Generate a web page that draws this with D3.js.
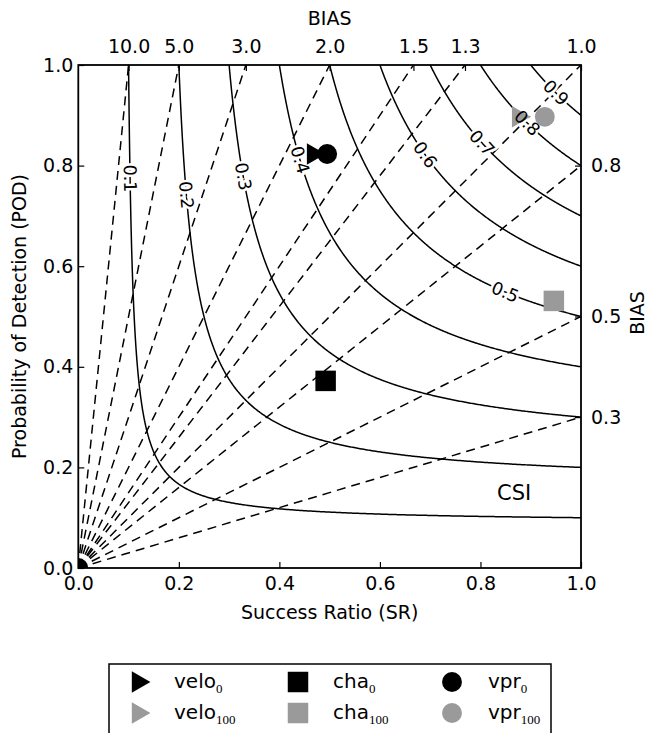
<!DOCTYPE html>
<html>
<head>
<meta charset="utf-8">
<script src="https://cdn.jsdelivr.net/npm/d3@7"></script>
<style>
  html, body { margin: 0; padding: 0; background: #fff; }
  svg { display: block; }
  text { font-family: "DejaVu Sans", sans-serif; fill: #000; }
</style>
</head>
<body>
<svg id="chart" width="647" height="733"></svg>
<script>
// ---------------- data ----------------
const csiLevels = [0.1, 0.2, 0.3, 0.4, 0.5, 0.6, 0.7, 0.8, 0.9];
const biasLevels = [0.3, 0.5, 0.8, 1.0, 1.3, 1.5, 2.0, 3.0, 5.0, 10.0];
const biasTopTicks = [10.0, 5.0, 3.0, 2.0, 1.5, 1.3, 1.0];
const biasRightTicks = [0.8, 0.5, 0.3];
const axisTicks = [0.0, 0.2, 0.4, 0.6, 0.8, 1.0];

const seriesNames = ["velo", "cha", "vpr"];
const seriesShapes = ["triangle", "square", "circle"];
const sr0   = [0.465, 0.492, 0.495];
const pod0  = [0.823, 0.372, 0.823];
const sr100  = [0.873, 0.946, 0.928];
const pod100 = [0.897, 0.531, 0.897];
const originSR = [0.0];
const originPOD = [0.0];

// where along each CSI contour (as SR) the inline label sits
const csiLabelSR = [0.103, 0.215, 0.328, 0.441, 0.849, 0.69, 0.803, 0.893, 0.95];

// ---------------- layout ----------------
const svg = d3.select("#chart");
const X0 = 78.3, X1 = 581, Y0 = 568, Y1 = 65;
const x = d3.scaleLinear().domain([0, 1]).range([X0, X1]);
const y = d3.scaleLinear().domain([0, 1]).range([Y0, Y1]);
const FS = 19;
const gray = "#9a9a9a";

svg.append("defs").append("clipPath").attr("id", "plotclip")
  .append("rect").attr("x", X0).attr("y", Y1).attr("width", X1 - X0).attr("height", Y0 - Y1);

const plot = svg.append("g").attr("clip-path", "url(#plotclip)");
const line = d3.line().x(d => x(d[0])).y(d => y(d[1]));

// bias dashed lines
biasLevels.forEach(b => {
  const end = b >= 1 ? [1 / b, 1] : [1, b];
  plot.append("path")
    .attr("d", line([[0, 0], end]))
    .attr("fill", "none").attr("stroke", "#000").attr("stroke-width", 1.5)
    .attr("stroke-dasharray", "9,6");
});

// CSI contours
function csiPod(c, sr) { return 1 / (1 / c + 1 - 1 / sr); }
csiLevels.forEach(c => {
  const pts = d3.range(0, 401).map(i => {
    const sr = c + (1 - c) * Math.pow(i / 400, 1.6);
    return [sr, Math.min(1, csiPod(c, sr))];
  });
  plot.append("path").attr("d", line(pts))
    .attr("fill", "none").attr("stroke", "#000").attr("stroke-width", 1.5);
});

// label geometry
const labelInfo = csiLevels.map((c, i) => {
  const sr = csiLabelSR[i], pod = csiPod(c, sr);
  const slope = (pod * pod) / (sr * sr) * ((y(0) - y(1)) / (x(1) - x(0)));
  const ang = Math.atan(slope) * 180 / Math.PI;
  return { c, px: x(sr), py: y(pod), ang };
});
const fmt1 = d3.format(".1f");

// label halos (cut the lines)
plot.selectAll("text.halo").data(labelInfo).enter().append("text")
  .attr("class", "halo")
  .attr("transform", d => `translate(${d.px},${d.py}) rotate(${d.ang})`)
  .attr("text-anchor", "middle").attr("dy", "0.35em")
  .attr("font-size", 17.5)
  .attr("fill", "#fff").attr("stroke", "#fff").attr("stroke-width", 5)
  .text(d => fmt1(d.c));

// markers
const sym = { triangle: d3.symbolTriangle, square: d3.symbolSquare, circle: d3.symbolCircle };
const symSize = { triangle: 200, square: 420, circle: 310 };
function drawMarker(g, shape, cx, cy, color) {
  const p = g.append("path")
    .attr("d", d3.symbol().type(sym[shape]).size(symSize[shape])())
    .attr("fill", color);
  if (shape === "triangle") p.attr("transform", `translate(${cx + 1},${cy}) rotate(90)`);
  else p.attr("transform", `translate(${cx},${cy})`);
}
seriesNames.forEach((n, i) => drawMarker(plot, seriesShapes[i], x(sr100[i]), y(pod100[i]), gray));
seriesNames.forEach((n, i) => drawMarker(plot, seriesShapes[i], x(sr0[i]), y(pod0[i]), "#000"));
originSR.forEach((s, i) => drawMarker(plot, "circle", x(s), y(originPOD[i]), "#000"));

// label text
plot.selectAll("text.lab").data(labelInfo).enter().append("text")
  .attr("class", "lab")
  .attr("transform", d => `translate(${d.px},${d.py}) rotate(${d.ang})`)
  .attr("text-anchor", "middle").attr("dy", "0.35em")
  .attr("font-size", 17.5)
  .text(d => fmt1(d.c));

// CSI label
svg.append("text").attr("x", x(0.867)).attr("y", y(0.135)).attr("text-anchor", "middle")
  .attr("font-size", 21).text("CSI");

// frame
svg.append("rect").attr("x", X0).attr("y", Y1).attr("width", X1 - X0).attr("height", Y0 - Y1)
  .attr("fill", "none").attr("stroke", "#000").attr("stroke-width", 1.8);

// axes
function styleAxis(g) {
  g.select(".domain").remove();
  g.selectAll(".tick line").attr("stroke", "#000").attr("stroke-width", 1.2);
  g.selectAll(".tick text").attr("font-size", FS).attr("font-family", "DejaVu Sans").attr("fill", "#000");
}
svg.append("g").attr("transform", `translate(0,${Y0})`)
  .call(d3.axisBottom(x).tickValues(axisTicks).tickFormat(fmt1).tickSize(-6).tickSizeOuter(0).tickPadding(9))
  .call(styleAxis);
svg.append("g").attr("transform", `translate(${X0},0)`)
  .call(d3.axisLeft(y).tickValues(axisTicks).tickFormat(fmt1).tickSize(-6).tickSizeOuter(0).tickPadding(5))
  .call(styleAxis);
const xTop = d3.scaleLinear().domain([0, 1]).range([X0, X1]);
svg.append("g").attr("transform", `translate(0,${Y1})`)
  .call(d3.axisTop(xTop).tickValues(biasTopTicks.map(b => 1 / b)).tickFormat(v => fmt1(1 / v))
    .tickSize(-6).tickSizeOuter(0).tickPadding(12))
  .call(styleAxis);
svg.append("g").attr("transform", `translate(${X1},0)`)
  .call(d3.axisRight(y).tickValues(biasRightTicks).tickFormat(fmt1).tickSize(-6).tickSizeOuter(0).tickPadding(10))
  .call(styleAxis);

// axis titles
svg.append("text").attr("x", (X0 + X1) / 2).attr("y", 25).attr("text-anchor", "middle")
  .attr("font-size", FS).text("BIAS");
svg.append("text").attr("x", (X0 + X1) / 2).attr("y", 619).attr("text-anchor", "middle")
  .attr("font-size", FS).text("Success Ratio (SR)");
svg.append("text").attr("transform", `translate(26,${(Y0 + Y1) / 2}) rotate(-90)`)
  .attr("text-anchor", "middle").attr("font-size", FS).text("Probability of Detection (POD)");
svg.append("text").attr("transform", `translate(644,313) rotate(-90)`)
  .attr("text-anchor", "middle").attr("font-size", FS).text("BIAS");

// legend
const leg = svg.append("g");
leg.append("rect").attr("x", 109).attr("y", 664).attr("width", 442).attr("height", 70)
  .attr("fill", "#fff").attr("stroke", "#000").attr("stroke-width", 1.5);
const legMarkerX = [137, 298, 452];
const legTextX = [174, 333, 488];
const legRowY = [682, 713];
const legSubs = ["0", "100"];
const legColors = ["#000", gray];
legRowY.forEach((ry, r) => {
  seriesNames.forEach((n, i) => {
    drawMarker(leg, seriesShapes[i], legMarkerX[i], ry, legColors[r]);
    const t = leg.append("text").attr("x", legTextX[i]).attr("y", ry + 6).attr("font-size", 20);
    t.append("tspan").attr("fill", "#000").text(n);
    t.append("tspan").attr("dy", 5).attr("font-size", 13).attr("fill", "#000")
      .attr("font-family", "Liberation Serif, serif").text(legSubs[r]);
  });
});
</script>
</body>
</html>
